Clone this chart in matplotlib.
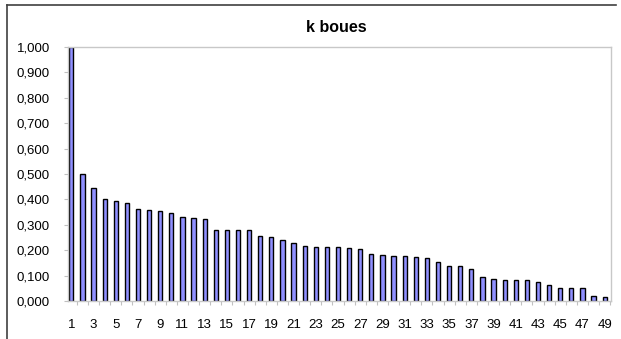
import numpy as np
import matplotlib.pyplot as plt
from matplotlib.lines import Line2D
from matplotlib.ticker import FixedLocator, FuncFormatter

plt.rcParams['font.family'] = ['Liberation Sans', 'DejaVu Sans']

# data
categories = list(range(1, 50))
values = [
    1.000, 0.500, 0.444, 0.400, 0.395, 0.386, 0.364, 0.358, 0.354, 0.345,
    0.330, 0.327, 0.324, 0.280, 0.280, 0.280, 0.278, 0.255, 0.252, 0.242,
    0.227, 0.215, 0.214, 0.213, 0.212, 0.210, 0.203, 0.187, 0.180, 0.178,
    0.177, 0.175, 0.171, 0.152, 0.139, 0.139, 0.125, 0.093, 0.088, 0.083,
    0.082, 0.082, 0.074, 0.062, 0.053, 0.052, 0.051, 0.021, 0.016,
]
x_labels = [str(c) for c in categories if c % 2 == 1]
y_ticks = [0.0, 0.1, 0.2, 0.3, 0.4, 0.5, 0.6, 0.7, 0.8, 0.9, 1.0]

fig = plt.figure(figsize=(6.21, 3.39), dpi=100)
ax = fig.add_axes([68 / 621, 1 - 301 / 339, 543 / 621, 254 / 339])

ax.bar(categories, values, width=0.38, color='#9090ff',
       edgecolor='black', linewidth=1.0)

ax.set_xlim(0.7, 49.57)
ax.set_ylim(0, 1.0)

ax.xaxis.set_major_locator(FixedLocator([c for c in categories if c % 2 == 1]))
ax.set_xticklabels(x_labels)
ax.xaxis.set_minor_locator(FixedLocator(np.arange(0.5, 50, 1)))
ax.tick_params(axis='x', which='major', length=0, pad=13, labelsize=9.5)
ax.tick_params(axis='x', which='minor', length=3, color='#c0c0c0', width=0.8)

ax.set_yticks(y_ticks)
ax.yaxis.set_major_formatter(FuncFormatter(lambda v, p: f"{v:.3f}".replace('.', ',')))
ax.tick_params(axis='y', length=3, color='#c0c0c0', width=0.8, pad=10, labelsize=9.5)

for s in ax.spines.values():
    s.set_color('#c8c8c8')
    s.set_linewidth(1.0)

fig.text(336 / 621, 1 - 28 / 339, "k boues", ha='center', va='center',
         fontsize=11.5, fontweight='bold')

# outer chart border (partly cropped in the reference)
fig.add_artist(Line2D([7 / 621, 616 / 621], [1 - 5 / 339, 1 - 5 / 339],
                      color='#404040', linewidth=1.2))
fig.add_artist(Line2D([7 / 621, 7 / 621], [1 - 5 / 339, 0],
                      color='#404040', linewidth=1.2))

fig.savefig('out.png', dpi=100)
